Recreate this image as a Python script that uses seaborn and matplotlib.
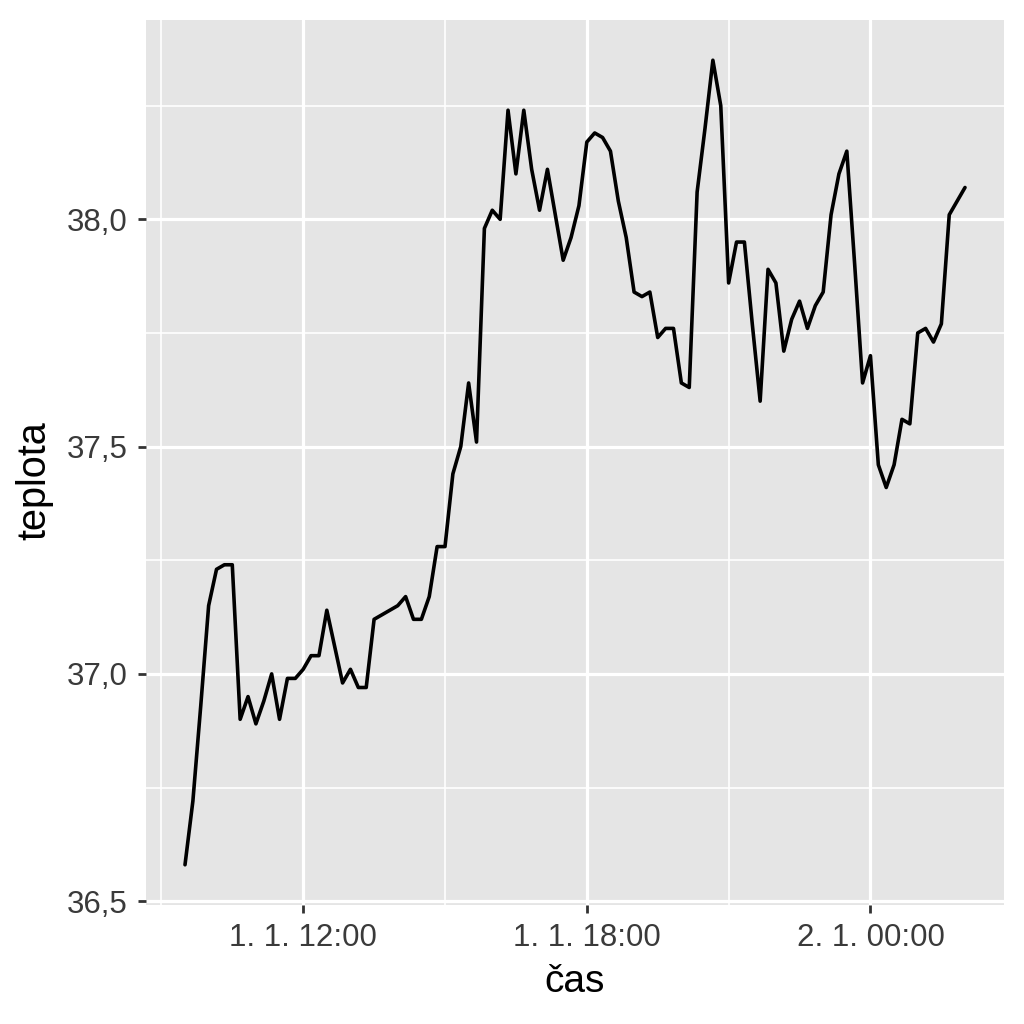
"""
Teplota v čase - line chart in ggplot-like grey style.
"""

import matplotlib
matplotlib.use("Agg")
import matplotlib.pyplot as plt
import matplotlib.dates as mdates
from matplotlib.ticker import MultipleLocator, FuncFormatter
import pandas as pd
import seaborn as sns

# measurements every 10 minutes, starting 1. 1. 9:30
START = "2024-01-01 09:30"
STEP = "10min"

teplota = [
    36.58, 36.72, 36.93, 37.15, 37.23, 37.24, 37.24, 36.90, 36.95, 36.89,
    36.94, 37.00, 36.90, 36.99, 36.99, 37.01, 37.04, 37.04, 37.14, 37.06,
    36.98, 37.01, 36.97, 36.97, 37.12, 37.13, 37.14, 37.15, 37.17, 37.12,
    37.12, 37.17, 37.28, 37.28, 37.44, 37.50, 37.64, 37.51, 37.98, 38.02,
    38.00, 38.24, 38.10, 38.24, 38.11, 38.02, 38.11, 38.01, 37.91, 37.96,
    38.03, 38.17, 38.19, 38.18, 38.15, 38.04, 37.96, 37.84, 37.83, 37.84,
    37.74, 37.76, 37.76, 37.64, 37.63, 38.06, 38.20, 38.35, 38.25, 37.86,
    37.95, 37.95, 37.77, 37.60, 37.89, 37.86, 37.71, 37.78, 37.82, 37.76,
    37.81, 37.84, 38.01, 38.10, 38.15, 37.90, 37.64, 37.70, 37.46, 37.41,
    37.46, 37.56, 37.55, 37.75, 37.76, 37.73, 37.77, 38.01, 38.04, 38.07,
]

cas = pd.date_range(START, periods=len(teplota), freq=STEP)

X_TITLE = "čas"
Y_TITLE = "teplota"

sns.set_style("darkgrid", {
    "axes.facecolor": "#E5E5E5",
    "grid.color": "white",
})
plt.rcParams["font.family"] = ["Liberation Sans", "DejaVu Sans"]

df = pd.DataFrame({"cas": cas, "teplota": teplota})

fig, ax = plt.subplots(figsize=(10.24, 10.24), dpi=100)
fig.subplots_adjust(left=146 / 1024, right=1004 / 1024,
                    top=1 - 20 / 1024, bottom=1 - 905 / 1024)

sns.lineplot(data=df, x="cas", y="teplota", color="black",
             linewidth=2.6, ax=ax)

ax.margins(x=0.05, y=0.05)

# x axis: dates in Czech style
ax.xaxis.set_major_locator(mdates.HourLocator(byhour=[0, 6, 12, 18]))
ax.xaxis.set_minor_locator(mdates.HourLocator(byhour=[3, 9, 15, 21]))


def fmt_date(x, pos):
    d = mdates.num2date(x)
    return f"{d.day}. {d.month}. {d:%H:%M}"


ax.xaxis.set_major_formatter(FuncFormatter(fmt_date))

# y axis: decimal comma
ax.yaxis.set_major_locator(MultipleLocator(0.5))
ax.yaxis.set_minor_locator(MultipleLocator(0.25))
ax.yaxis.set_major_formatter(FuncFormatter(lambda v, p: f"{v:.1f}".replace(".", ",")))

ax.grid(which="major", color="white", linewidth=2.3)
ax.grid(which="minor", color="white", linewidth=1.2)
ax.set_axisbelow(True)

for s in ax.spines.values():
    s.set_visible(False)

ax.tick_params(axis="both", which="major", bottom=True, left=True,
               length=6, width=2, color="#333333",
               labelsize=22.5, labelcolor="#3A3A3A", pad=7)
ax.tick_params(axis="both", which="minor", bottom=False, left=False, length=0)

ax.set_xlabel(X_TITLE, fontsize=28, color="black", labelpad=8)
ax.set_ylabel(Y_TITLE, fontsize=28.5, color="black")
ax.yaxis.set_label_coords(-0.108, 0.479)

plt.savefig("out.png", dpi=100)
